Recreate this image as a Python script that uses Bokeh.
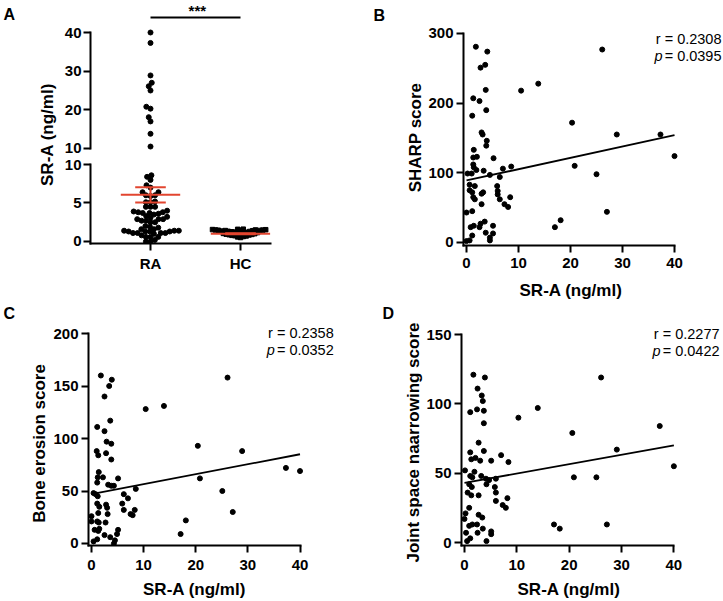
import numpy as np
from math import pi
from bokeh.plotting import figure
from bokeh.layouts import row, column
from bokeh.models import Range1d, FixedTicker, Label
from bokeh.embed import file_html
from bokeh.resources import INLINE

# ------------------------------------------------------------------ data
# Panel B: SR-A (ng/ml) vs SHARP score
sharp_x = [1.8, 4.0, 2.7, 3.6, 3.7, 10.5, 1.3, 2.5, 1.1, 3.8, 2.9, 3.1, 3.9, 3.8, 1.4,
           1.3, 2.0, 5.2, 1.3, 1.4, 1.9, 3.3, 1.0, 0.2, 7.0, 8.6, 4.5, 6.4, 0.6, 1.6,
           0.6, 1.1, 2.9, 3.2, 5.9, 6.0, 6.0, 1.3, 1.6, 6.4, 8.4, 2.9, 7.3, 8.0, 0.0,
           1.1, 3.5, 2.7, 0.8, 1.4, 2.5, 5.1, 3.7, 5.1, 1.1, 4.5, 4.5, 0.0, 0.6,
           17.0, 18.1, 20.3, 20.8, 25.0, 26.1, 27.0, 28.9, 37.3, 40.0, 13.8]
sharp_y = [281, 274, 251, 255, 219, 218, 207, 203, 182, 190, 158, 155, 146, 139, 133,
           122, 123, 121, 112, 108, 104, 103, 99, 99, 106, 109, 97, 94, 83, 81,
           75, 72, 70, 72, 81, 74, 69, 65, 62, 62, 65, 55, 55, 51, 43,
           45, 30, 27, 22, 24, 22, 24, 14, 13, 10, 7, 3, 2, 3,
           22, 32, 172, 110, 98, 277, 44, 155, 155, 124, 228]

# Panel C: SR-A vs bone erosion score
erosion_x = [1.8, 3.9, 3.4, 2.5, 3.6, 1.1, 2.5, 2.9, 3.8, 1.0, 1.3, 2.8, 3.8, 1.4, 1.2,
             2.2, 5.1, 1.1, 3.2, 3.8, 4.3, 0.4, 0.8, 1.2, 6.2, 7.0, 8.5, 5.9, 6.2, 7.5,
             7.9, 8.3, 1.1, 1.5, 2.8, 3.0, 1.3, 3.1, 0.0, 0.0, 1.1, 1.4, 2.7, 0.6, 1.3,
             1.5, 5.1, 2.5, 4.9, 3.6, 4.5, 0.4, 1.1, 4.3,
             10.4, 13.9, 17.1, 18.1, 20.4, 20.8, 25.1, 26.1, 27.1, 28.9, 37.3, 40.0]
erosion_y = [160, 156, 150, 140, 117, 111, 107, 97, 95, 88, 84, 86, 80, 68, 63,
             63, 62, 58, 56, 55, 55, 48, 47, 45, 47, 43, 52, 38, 32, 28,
             27, 32, 38, 35, 37, 34, 29, 28, 26, 21, 21, 20, 20, 13, 12,
             14, 13, 8, 9, 6, 3, 2, 4, 0,
             128, 131, 9, 22, 93, 62, 50, 158, 30, 88, 72, 69]

# Panel D: SR-A vs joint space narrowing score
jsn_x = [1.7, 3.9, 2.5, 3.3, 3.5, 1.1, 2.4, 3.7, 10.3, 3.7, 2.7, 1.1, 1.3, 2.1, 3.7,
         3.0, 5.1, 7.0, 8.4, 0.1, 1.1, 1.5, 1.9, 3.2, 4.1, 4.7, 6.0, 0.9, 1.4, 4.2,
         5.8, 6.0, 0.6, 1.3, 2.7, 8.2, 6.0, 7.3, 7.9, 0.9, 0.2, 0.0, 2.7, 3.4, 0.9,
         1.5, 2.4, 3.5, 5.1, 5.1, 2.5, 0.3, 1.1, 0.5, 4.2,
         14.0, 17.1, 18.2, 20.6, 20.9, 25.2, 26.1, 27.2, 29.1, 37.3, 40.0]
jsn_y = [121, 119, 111, 106, 102, 94, 96, 95, 90, 86, 72, 65, 60, 61, 66,
         59, 59, 63, 58, 52, 48, 47, 51, 48, 46, 45, 46, 42, 40, 42,
         40, 36, 36, 34, 34, 32, 30, 27, 25, 25, 21, 17, 20, 18, 12,
         13, 13, 10, 8, 6, 7, 7, 3, 1, 1,
         97, 13, 10, 79, 47, 47, 119, 13, 67, 84, 55]

# Regression lines
fit_x = [0, 40]
sharp_fit = [89, 154]
erosion_fit = [47, 85]
jsn_fit = [43, 70]

# Panel A: groups
groups = ["RA", "HC"]
ra_values = sharp_x
hc_values = [1.60, 1.58, 1.55, 1.53, 1.50, 1.50, 1.48, 1.46, 1.45, 1.43, 1.42, 1.40,
             1.35, 1.32, 1.30, 1.26, 1.22, 1.20, 1.16, 1.12, 1.10, 1.05,
             1.02, 0.98, 0.95, 0.92, 0.88, 0.85, 0.80, 0.76, 0.72, 0.65, 0.60, 0.52]
group_mean = [6.06, 1.0]
group_sem = [0.98, 0.06]

x_title = "SR-A (ng/ml)"
stats_B = ("r = 0.2308", "= 0.0395")
stats_C = ("r = 0.2358", "= 0.0352")
stats_D = ("r = 0.2277", "= 0.0422")

# ------------------------------------------------------------------ style
FONT = "Liberation Sans"
RED = "#e2452f"


def base_fig(W, H, L, R, T, B, xr, yr, **kw):
    p = figure(width=W, height=H, x_range=Range1d(*xr), y_range=Range1d(*yr),
               output_backend="svg", toolbar_location=None,
               min_border_left=L, min_border_right=R,
               min_border_top=T, min_border_bottom=B, **kw)
    p.grid.visible = False
    p.outline_line_color = None
    p.background_fill_color = "white"
    p.border_fill_color = "white"
    return p


def style_axes(p, tick_standoff=3):
    for ax in p.axis:
        ax.axis_line_width = 2
        ax.axis_line_color = "black"
        ax.axis_line_cap = "square"
        ax.major_tick_line_width = 2
        ax.major_tick_line_color = "black"
        ax.major_tick_out = 7
        ax.major_tick_in = 0
        ax.minor_tick_line_color = None
        ax.major_label_text_font = FONT
        ax.major_label_text_font_style = "bold"
        ax.major_label_text_font_size = "15px"
        ax.major_label_text_color = "black"
        ax.major_label_standoff = tick_standoff


def blank_fig(W, H):
    """A figure whose frame is its whole canvas: data units = pixels (y from bottom)."""
    return base_fig(W, H, 0, 0, 0, 0, (0, W), (0, H), x_axis_type=None, y_axis_type=None)


def title_text(p, x, y, text, angle=0.0):
    p.add_layout(Label(x=x, y=y, text=text, angle=angle, text_font=FONT,
                       text_font_style="bold", text_font_size="17px", text_color="black",
                       text_align="center", text_baseline="middle"))


def text_fig(W, H, letter, letter_x, letter_top, ylabel, lab_x, lab_cy):
    p = blank_fig(W, H)
    p.add_layout(Label(x=letter_x, y=H - letter_top, text=letter, text_font=FONT,
                       text_font_style="bold", text_font_size="16px", text_color="black",
                       text_align="left", text_baseline="top"))
    title_text(p, lab_x, H - lab_cy, ylabel, angle=pi / 2)
    return p


def xlabel_fig(W, H, cx, cy):
    p = blank_fig(W, H)
    title_text(p, cx, H - cy, x_title)
    return p


def rel_to_data(g, rx, ry):
    W, H, L, R, T, B, xr, yr = g
    fw = W - L - R
    fh = H - T - B
    x = xr[0] + (rx - L) / fw * (xr[1] - xr[0])
    y = yr[1] - (ry - T) / fh * (yr[1] - yr[0])
    return x, y


def scatter_panel(g, xs, ys, fy, yticks, stats, text_pos, xtick_standoff):
    W, H, L, R, T, B, xr, yr = g
    p = base_fig(*g)
    p.scatter(xs, ys, size=5, color="black", marker="circle")
    p.line(fit_x, fy, line_color="black", line_width=1.8)
    p.xaxis.ticker = FixedTicker(ticks=[0, 10, 20, 30, 40])
    p.yaxis.ticker = FixedTicker(ticks=yticks)
    p.xaxis.bounds = (xr[0], 40)
    p.yaxis.bounds = (yr[0], yticks[-1])
    style_axes(p)
    p.xaxis.major_label_standoff = xtick_standoff
    rx, ry = rel_to_data(g, text_pos[0], text_pos[1])
    p.add_layout(Label(x=rx, y=ry, text=stats[0], text_font=FONT, text_font_size="14.5px",
                       text_color="black", text_align="right", text_baseline="middle"))
    rx2, ry2 = rel_to_data(g, text_pos[0], text_pos[1] + 17)
    p.add_layout(Label(x=rx2, y=ry2, text=stats[1], text_font=FONT, text_font_size="14.5px",
                       text_color="black", text_align="right", text_baseline="middle"))
    p.add_layout(Label(x=rx2, y=ry2, x_offset=-59, text="p", text_font=FONT,
                       text_font_style="italic", text_font_size="14.5px", text_color="black",
                       text_align="right", text_baseline="middle"))
    return p


# ------------------------------------------------------------------ swarm layout
def swarm(values, px_per_unit, d, max_half=None):
    vals = np.asarray(values, dtype=float)
    order = np.argsort(vals, kind="stable")
    placed = []
    offs = np.zeros(len(vals))
    for i in order:
        y = vals[i] * px_per_unit
        cands = [0.0]
        for xo, yo in placed:
            dy = abs(y - yo)
            if dy < d:
                dx = np.sqrt(d * d - dy * dy)
                cands += [xo + dx, xo - dx]
        cands.sort(key=lambda c: (abs(c), c))
        chosen = cands[-1]
        for c in cands:
            if all((c - xo) ** 2 + (y - yo) ** 2 >= d * d - 1e-6 for xo, yo in placed):
                chosen = c
                break
        placed.append((chosen, y))
        offs[i] = chosen
    if max_half is not None and len(offs) and np.abs(offs).max() > max_half:
        offs = offs * (max_half / np.abs(offs).max())
    return offs


PX_CAT = 90.0
LOW_PX = 7.7
UP_PX = 3.867

ra = np.asarray(ra_values, dtype=float)
ra_low = ra[ra <= 10]
ra_up = ra[ra > 10]
ra_low_x = 1 + swarm(ra_low, LOW_PX, 4.6, 29) / PX_CAT
ra_up_x = 1 + swarm(ra_up, UP_PX, 4.6, 29) / PX_CAT
hc = np.asarray(hc_values, dtype=float)
hc_x = 2 + swarm(hc, LOW_PX, 3.6, 28) / PX_CAT

# ------------------------------------------------------------------ panel A
XR_A = (1 / 3, 7 / 3)
labA = text_fig(60, 300, "A", 3, 5, "SR-A (ng/ml)", 47, 134)

upA = base_fig(238, 156, 30, 28, 0, 6, XR_A, (9.48, 48.28), x_axis_type=None)
upA.scatter(ra_up_x, ra_up, size=5, color="black", marker="circle")
upA.yaxis.ticker = FixedTicker(ticks=[10, 20, 30, 40])
upA.yaxis.bounds = (10, 40)
style_axes(upA, tick_standoff=2)
upA.segment(x0=[1], y0=[43.88], x1=[2], y1=[43.88], line_color="black", line_width=2)
upA.add_layout(Label(x=1.52, y=45.82, text="***", text_font=FONT, text_font_style="bold",
                     text_font_size="15px", text_color="black",
                     text_align="center", text_baseline="middle"))

lowA = base_fig(238, 144, 30, 28, 8, 57, XR_A, (-0.26, 10))
lowA.scatter(ra_low_x, ra_low, size=5, color="black", marker="circle")
lowA.scatter(hc_x, hc, size=4.5, color="black", marker="square")
gx = [1, 2]
lowA.segment(x0=[c - 0.33 for c in gx], y0=group_mean, x1=[c + 0.33 for c in gx], y1=group_mean,
             line_color=RED, line_width=2)
lo = [m - s for m, s in zip(group_mean, group_sem)]
hi = [m + s for m, s in zip(group_mean, group_sem)]
lowA.segment(x0=[c - 0.17 for c in gx], y0=lo, x1=[c + 0.17 for c in gx], y1=lo,
             line_color=RED, line_width=2)
lowA.segment(x0=[c - 0.17 for c in gx], y0=hi, x1=[c + 0.17 for c in gx], y1=hi,
             line_color=RED, line_width=2)
lowA.segment(x0=gx, y0=lo, x1=gx, y1=hi, line_color=RED, line_width=2)
lowA.yaxis.ticker = FixedTicker(ticks=[0, 5, 10])
lowA.yaxis.bounds = (-0.26, 10)
lowA.xaxis.ticker = FixedTicker(ticks=gx)
lowA.xaxis.major_label_overrides = {1: groups[0], 2: groups[1]}
style_axes(lowA, tick_standoff=2)
lowA.xaxis.major_label_standoff = 4

# ------------------------------------------------------------------ panels B, C, D
labB = text_fig(126, 300, "B", 75, 6, "SHARP score", 117, 137)
gB = (299, 278, 39, 0, 20, 33, (-0.577, 49.42), (-4.31, 318.66))
pB = scatter_panel(gB, sharp_x, sharp_y, sharp_fit, [0, 100, 200, 300], stats_B, (297, 38), 5)
xlB = xlabel_fig(299, 22, 146.5, 12)

labC = text_fig(50, 300, "C", 3, 4, "Bone erosion score", 39, 143)
gC = (318, 278, 36, 0, 18, 33, (-0.571, 53.14), (-1.905, 214.29))
pC = scatter_panel(gC, erosion_x, erosion_y, erosion_fit, [0, 50, 100, 150, 200], stats_C, (283, 32), 7)
xlC = xlabel_fig(318, 22, 144, 11)

labD = text_fig(55, 300, "D", 14, 4, "Joint space naarrowing score", 45, 142)
gD = (300, 278, 36, 0, 18, 33, (-0.569, 49.48), (-2.163, 161.54))
pD = scatter_panel(gD, jsn_x, jsn_y, jsn_fit, [0, 50, 100, 150], stats_D, (296, 33), 7)
xlD = xlabel_fig(300, 22, 145.5, 11)

top = row(column(labA), column(upA, lowA), column(labB), column(column(pB), column(xlB)))
bottom = row(column(labC), column(column(pC), column(xlC)), column(labD),
             column(column(pD), column(xlD)))
layout = column(top, bottom)

open("out.html", "w").write(file_html(layout, INLINE))
